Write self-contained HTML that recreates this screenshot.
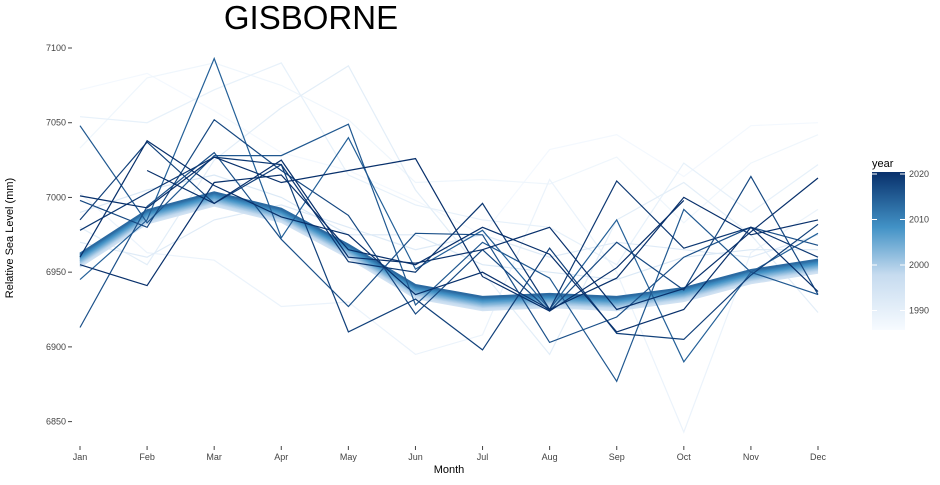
<!DOCTYPE html>
<html><head><meta charset="utf-8"><style>
body{margin:0;background:#fff;font-family:"Liberation Sans",sans-serif}
svg text{font-family:"Liberation Sans",sans-serif}
</style></head><body>
<svg id="c" width="940" height="480">
<defs><linearGradient id="lg" x1="0" y1="1" x2="0" y2="0">
<stop offset="0" stop-color="#f7fbff"/><stop offset="0.35" stop-color="#c6dbef"/><stop offset="0.65" stop-color="#4292c6"/><stop offset="1" stop-color="#08306b"/></linearGradient></defs>
<text x="311" y="29" font-size="33" text-anchor="middle" fill="#000">GISBORNE</text>
<g id="axes"></g><g id="marks"></g>
<text x="449" y="473" font-size="11" text-anchor="middle">Month</text>
<text transform="translate(13,238) rotate(-90)" font-size="11" text-anchor="middle">Relative Sea Level (mm)</text>
<text x="872" y="167" font-size="11">year</text>
<rect x="872" y="172" width="33" height="158" fill="url(#lg)"/>
<g id="leg"></g>
</svg>
<script>
const months=["Jan","Feb","Mar","Apr","May","Jun","Jul","Aug","Sep","Oct","Nov","Dec"];
const yTicks=[6850,6900,6950,7000,7050,7100];
const legendTicks=[1990,2000,2010,2020];
const bandBase=[6958,6987,6999,6988,6964,6937,6929,6931,6929,6935,6947,6954];
const bandYears=[1985,1987,1989,1991,1993,1995,1997,1999,2001,2003,2005,2007,2009,2011,2013,2015,2017,2019];
const bandOffsets=[-4.5,-4,-3.5,-3,-2.4,-1.9,-1.3,-0.8,-0.3,0.3,0.8,1.3,1.9,2.4,3,3.5,4,4.5];
const lightYears=[1986,1987,1988,1989,1990,1991,1992];
const lightSeries=[
[7072,7083,7058,7030,7018,6998,6975,7032,7042,7014,7048,7050],
[7033,7080,7090,7075,7052,7010,7012,7009,7027,6983,7023,7042],
[7003,6963,6958,6927,6930,6895,6908,7012,6950,6843,6963,6992],
[7054,7050,7072,7090,7015,6995,6985,6980,6955,7023,6990,7022],
[6980,6955,7025,7060,7088,7005,6950,6895,6985,7010,6975,6923],
[6970,6960,6985,6995,6980,6965,6975,6960,6970,6965,6960,6975],
[6990,7005,7015,7000,6975,6975,6955,6950,6945,6960,6965,6965]];
const darkYears=[2009,2010,2011,2012,2013,2014,2015,2016,2017,2018];
const darkSeries=[
[6945,6985,7093,6973,7040,6952,6978,6925,6985,6890,6950,6976],
[7048,6983,7028,7028,7049,6928,6970,6946,6877,6992,6950,6935],
[6913,6994,7030,6972,6927,6976,6975,6903,6920,6960,6980,6968],
[6998,6980,7052,7018,6988,6922,6965,6924,6970,6938,7014,6935],
[6985,7037,6996,7022,6910,6932,6898,6966,6909,6905,6948,6982],
[6978,7003,7027,7022,6957,6950,6996,6925,7011,6966,6980,6960],
[7001,6993,7027,7010,7018,7026,6947,6924,6953,6998,null,null],
[6955,6941,7010,7015,6965,6955,6980,6962,6910,6925,6980,6937],
[null,7018,6996,7025,6960,6956,6965,6980,6925,6939,6977,7013],
[6960,7038,7008,6987,6975,6935,6950,6925,6946,7000,6975,6985]];
const NS="http://www.w3.org/2000/svg";
const x=i=>80+i*(818-80)/11;
const y=v=>48+(7100-v)*1.4944;
const ly=yr=>174+(2020-yr)*4.55;
function col(yr){const t=Math.max(0,Math.min(1,(yr-1985)/35));
const a=[247,251,255],m1=[198,219,239],m2=[66,146,198],b=[8,48,107];
let p,q,s;if(t<0.35){p=a;q=m1;s=t/0.35}else if(t<0.65){p=m1;q=m2;s=(t-0.35)/0.3}else{p=m2;q=b;s=(t-0.65)/0.35}
return "rgb("+p.map((c,i)=>Math.round(c+(q[i]-c)*s)).join(",")+")";}
function el(tag,attrs,parent){const e=document.createElementNS(NS,tag);for(const k in attrs)e.setAttribute(k,attrs[k]);parent.appendChild(e);return e;}
const axes=document.getElementById("axes"),marks=document.getElementById("marks"),leg=document.getElementById("leg");
yTicks.forEach(v=>{
const t=el("text",{x:66,y:y(v)+3,"font-size":9,"text-anchor":"end",fill:"#444"},axes);t.textContent=v;


el("line",{x1:68,x2:72,y1:y(v),y2:y(v),stroke:"#444"},axes);});
months.forEach((m,i)=>{
const t=el("text",{x:x(i),y:460,"font-size":9,"text-anchor":"middle",fill:"#444"},axes);t.textContent=m;


el("line",{x1:x(i),x2:x(i),y1:446,y2:450,stroke:"#444"},axes);});
function path(arr){let d="",pen=false;arr.forEach((v,i)=>{if(v==null){pen=false;return;}d+=(pen?"L":"M")+x(i).toFixed(1)+","+y(v).toFixed(1);pen=true;});return d;}
lightSeries.forEach((s,k)=>{
const p=el("path",{d:path(s),fill:"none",stroke:col(lightYears[k]),"stroke-width":1.2},marks);

});
bandYears.forEach((yr,k)=>{
const p=el("path",{d:path(bandBase.map(v=>v+bandOffsets[k])),fill:"none",stroke:col(1994+(yr-1985)*0.55),"stroke-width":1.8},marks);

});
darkSeries.forEach((s,k)=>{
const p=el("path",{d:path(s),fill:"none",stroke:col(darkYears[k]+5),"stroke-width":1.2},marks);

});
legendTicks.forEach(yr=>{
el("line",{x1:872,x2:877,y1:ly(yr),y2:ly(yr),stroke:"#fff"},leg);
el("line",{x1:900,x2:905,y1:ly(yr),y2:ly(yr),stroke:"#fff"},leg);
const t=el("text",{x:909,y:ly(yr)+3,"font-size":9,fill:"#444"},leg);t.textContent=yr;

});
</script>
</body></html>
